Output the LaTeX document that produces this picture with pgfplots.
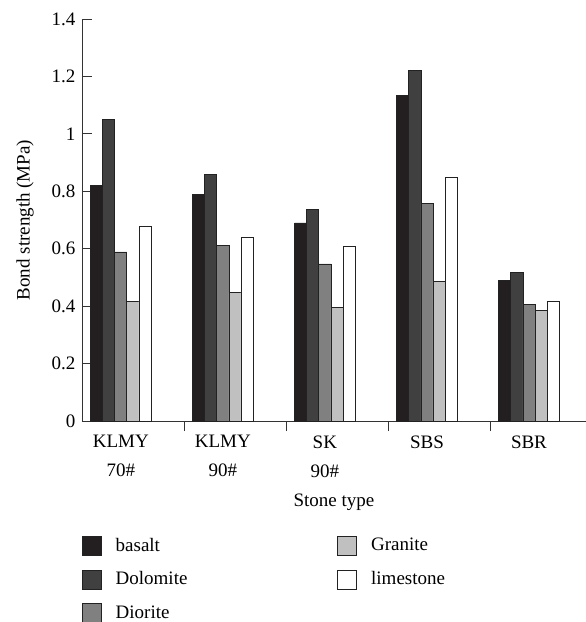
\documentclass[border=0pt]{standalone}
\usepackage{pgfplots}
\pgfplotsset{compat=1.18}
\usepackage{fontspec}
\setmainfont{Liberation Serif}
\definecolor{cBasalt}{HTML}{231F20}
\definecolor{cDolo}{HTML}{404040}
\definecolor{cDio}{HTML}{808080}
\definecolor{cGran}{HTML}{C0C0C0}
\definecolor{cEdge}{HTML}{222222}
\pgfplotsset{
  sqleg/.style={legend image code/.code={\draw[##1,line width=0.7pt] (0pt,-9.5pt) rectangle (19pt,9.5pt);}}
}
\begin{document}
\fontsize{19}{23}\selectfont
\begin{tikzpicture}
\begin{axis}[
  scale only axis, width=504pt, height=402pt,
  xmin=-0.38, xmax=4.559, ymin=0, ymax=1.4,
  axis lines*=left,
  axis line style={draw=black!80, line width=0.8pt},
  tick style={draw=black!80, line width=0.8pt},
  tick align=inside,
  major tick length=10pt,
  ybar=0pt, bar width=0.1186,
  ytick={0,0.2,0.4,0.6,0.8,1,1.2,1.4},
  yticklabels={0,0.2,0.4,0.6,0.8,1,1.2,1.4},
  xtick={0.62,1.62,2.62,3.62}, xticklabels={},
  extra x ticks={0,1,2,3,4},
  extra x tick labels={{KLMY\\[6pt]70\#},{KLMY\\[6pt]90\#},{SK\\[6pt]90\#},SBS,SBR},
  extra x tick style={major tick length=0pt, tick style={draw=none}},
  xticklabel style={align=center, anchor=north, yshift=-8pt, font=\fontsize{19}{23}\selectfont},
  yticklabel style={font=\fontsize{19}{23}\selectfont},
  /pgf/number format/assume math mode=true,
  xlabel={Stone type}, ylabel={Bond strength (MPa)},
  label style={font=\fontsize{19}{23}\selectfont},
  xlabel style={yshift=6pt},
  ylabel style={yshift=5pt},
  legend columns=3, transpose legend,
  legend style={draw=none, fill=none, at={(0,0)}, anchor=north west, yshift=-115pt,
    inner sep=0pt, outer sep=0pt, row sep=14pt,
    font=\fontsize{19}{23}\selectfont,
    nodes={inner sep=0pt, anchor=west},
    /tikz/every odd column/.append style={column sep=14pt},
    /tikz/every even column/.append style={column sep=150pt}},
  every axis plot/.append style={draw=cEdge, line width=0.7pt},
]
\addplot[fill=cBasalt, sqleg] coordinates {(0,0.82) (1,0.79) (2,0.69) (3,1.133) (4,0.49)};
\addlegendentry{basalt}
\addplot[fill=cDolo, sqleg] coordinates {(0,1.05) (1,0.86) (2,0.738) (3,1.222) (4,0.517)};
\addlegendentry{Dolomite}
\addplot[fill=cDio, sqleg] coordinates {(0,0.589) (1,0.61) (2,0.547) (3,0.758) (4,0.407)};
\addlegendentry{Diorite}
\addplot[fill=cGran, sqleg] coordinates {(0,0.416) (1,0.448) (2,0.395) (3,0.487) (4,0.386)};
\addlegendentry{Granite}
\addplot[fill=white, sqleg] coordinates {(0,0.677) (1,0.64) (2,0.607) (3,0.848) (4,0.416)};
\addlegendentry{limestone}
\coordinate (O) at (rel axis cs:0,0);
\end{axis}
\path (O) ++(-82pt,-201pt) coordinate (BL) ++(586pt,622pt) coordinate (TR);
\pgfresetboundingbox
\useasboundingbox (BL) rectangle (TR);
\end{tikzpicture}
\end{document}
